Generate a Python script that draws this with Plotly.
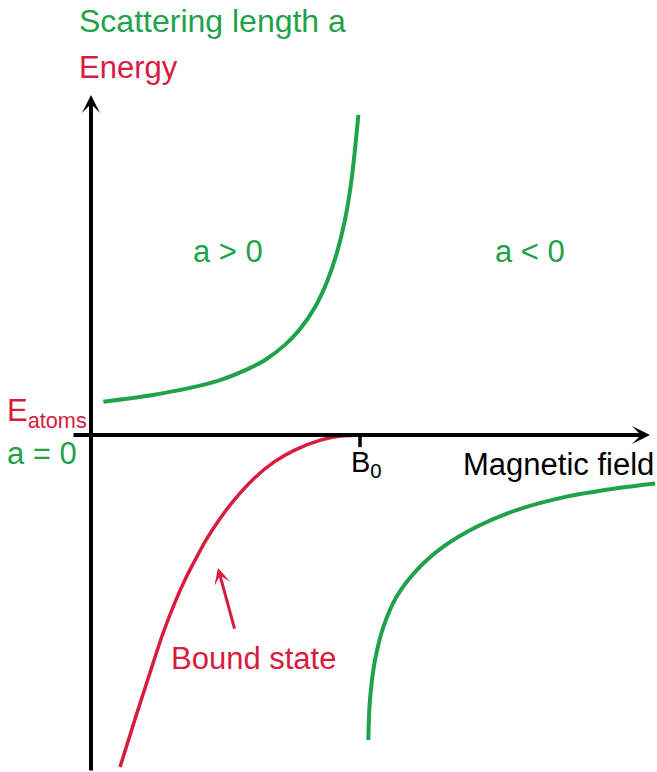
import plotly.graph_objects as go

# Data (field in units where B0 = 1; value in arbitrary units, 0 = E_atoms / a = 0)
b0 = 1.0
upper_a_x = [0.046, 0.219, 0.368, 0.480, 0.572, 0.647, 0.721, 0.777, 0.833, 0.877, 0.914, 0.944, 0.967, 0.981, 0.994]
upper_a_y = [0.124, 0.147, 0.175, 0.204, 0.240, 0.279, 0.335, 0.394, 0.476, 0.569, 0.677, 0.799, 0.937, 1.059, 1.190]

bound_x = [1.000, 0.926, 0.853, 0.757, 0.681, 0.608, 0.532, 0.476, 0.428, 0.387, 0.349, 0.316, 0.268, 0.219, 0.171, 0.108]
bound_y = [0.000, -0.004, -0.019, -0.056, -0.100, -0.160, -0.242, -0.316, -0.390, -0.465, -0.539, -0.613, -0.736, -0.885, -1.033, -1.234]

lower_a_x = [1.031, 1.037, 1.056, 1.087, 1.136, 1.211, 1.310, 1.434, 1.582, 1.768, 1.954, 2.097]
lower_a_y = [-1.134, -0.985, -0.836, -0.713, -0.601, -0.502, -0.415, -0.341, -0.279, -0.229, -0.198, -0.180]

GREEN = "#1fa24a"
RED = "#d81b3f"
FONT = "Arial, Liberation Sans, sans-serif"

W, H = 657, 772
X_RANGE = [-0.3383, 2.1041]
Y_RANGE = [-1.2528, 1.6171]

fig = go.Figure()
fig.add_trace(go.Scatter(x=upper_a_x, y=upper_a_y, mode="lines",
                         line=dict(color=GREEN, width=4, shape="spline", smoothing=1.0),
                         hoverinfo="skip", showlegend=False))
fig.add_trace(go.Scatter(x=lower_a_x, y=lower_a_y, mode="lines",
                         line=dict(color=GREEN, width=4, shape="spline", smoothing=1.0),
                         hoverinfo="skip", showlegend=False))
fig.add_trace(go.Scatter(x=bound_x, y=bound_y, mode="lines",
                         line=dict(color=RED, width=3.5, shape="spline", smoothing=1.0),
                         hoverinfo="skip", showlegend=False))

# axes with arrows
fig.add_annotation(x=0, y=1.264, ax=0, ay=Y_RANGE[0], xref="x", yref="y", axref="x", ayref="y",
                   showarrow=True, arrowhead=3, arrowsize=0.75, arrowwidth=4, arrowcolor="black",
                   standoff=0, startstandoff=0, text="")
fig.add_annotation(x=2.078, y=0, ax=-0.0706, ay=0, xref="x", yref="y", axref="x", ayref="y",
                   showarrow=True, arrowhead=3, arrowsize=0.75, arrowwidth=4, arrowcolor="black",
                   standoff=0, startstandoff=0, text="")
# B0 tick
fig.add_shape(type="line", x0=b0, x1=b0, y0=0, y1=-0.045, xref="x", yref="y",
              line=dict(color="black", width=3.5))

# Bound state arrow
fig.add_annotation(x=0.472, y=-0.494, ax=0.535, ay=-0.725, xref="x", yref="y", axref="x", ayref="y",
                   showarrow=True, arrowhead=3, arrowsize=0.9, arrowwidth=3, arrowcolor=RED,
                   standoff=0, text="")

def px2x(px):
    return (px - 91) / 269.0

def py2y(py):
    return (435 - py) / 269.0

def label(text, px, py, color, xanchor="center", size=31):
    fig.add_annotation(x=px2x(px), y=py2y(py), xref="x", yref="y", text=text, showarrow=False,
                       xanchor=xanchor, yanchor="middle",
                       font=dict(family=FONT, size=size, color=color))

label("Scattering length a", 77, 21, GREEN, xanchor="left", size=32)
label("Energy", 77, 67, RED, xanchor="left")
label("a > 0", 228, 251, GREEN)
label("a < 0", 530, 251, GREEN)
label("E<sub>atoms</sub>", 89, 413, RED, xanchor="right")
label("a = 0", 5, 453, GREEN, xanchor="left")
label("B<sub>0</sub>", 366, 464, "black", size=29)
label("Magnetic field", 656, 464, "black", xanchor="right")
label("Bound state", 253, 658, RED)

fig.update_layout(
    width=W, height=H,
    margin=dict(l=0, r=0, t=0, b=0),
    paper_bgcolor="white", plot_bgcolor="white",
    xaxis=dict(range=X_RANGE, visible=False, showgrid=False, zeroline=False, fixedrange=True),
    yaxis=dict(range=Y_RANGE, visible=False, showgrid=False, zeroline=False, fixedrange=True),
    showlegend=False,
)

fig.write_html("out.html", config={"displayModeBar": False},
               post_script="document.body.style.margin='0px';document.body.style.overflow='hidden';")
